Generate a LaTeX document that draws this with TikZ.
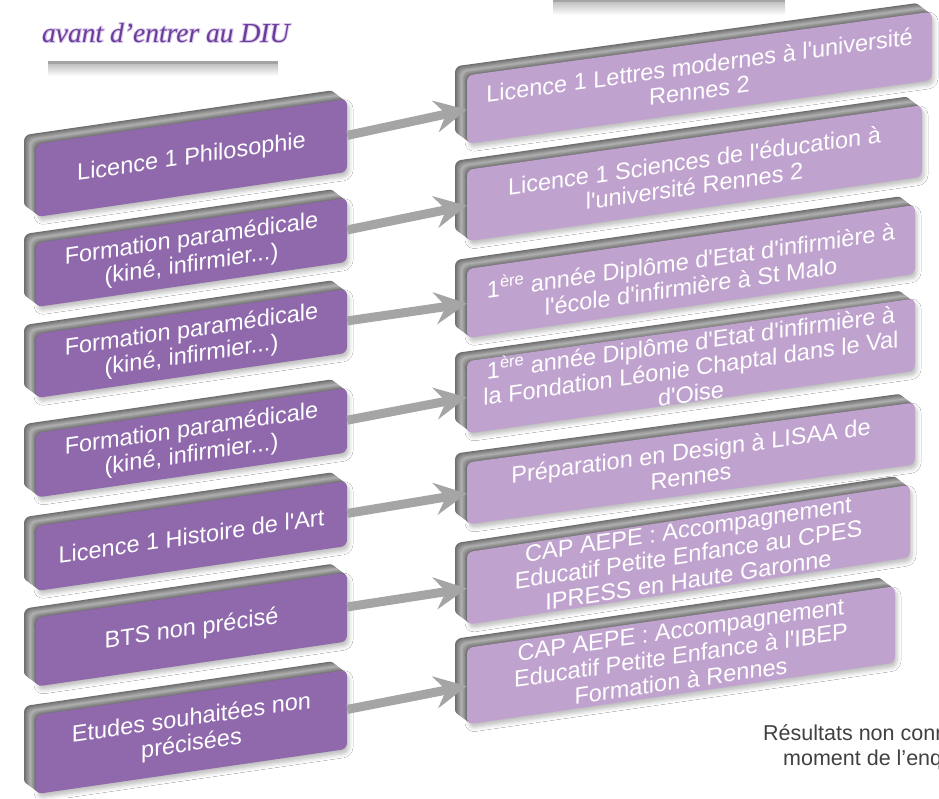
\documentclass[tikz,border=0pt]{standalone}
\usepackage{fontspec}
\setmainfont{Liberation Sans}[Ligatures=TeXOff]
\newfontfamily\titlefont{Liberation Serif}
\newfontfamily\titleglowfont{Liberation Serif Italic}[FakeBold=7]
\usetikzlibrary{arrows.meta,shadows.blur}
\definecolor{facedark}{HTML}{8F69AB}
\definecolor{facelight}{HTML}{C0A2CE}
\definecolor{arrowgray}{HTML}{A5A5A5}
\definecolor{titlepurple}{HTML}{6A3D9A}
\definecolor{titleglow}{HTML}{DCC9EC}
\definecolor{notegray}{HTML}{404040}
\tikzset{
  slabshape/.style={rectangle, rounded corners=6pt, inner sep=0pt, draw=none, transform shape},
  slabtext/.style={text=white, align=center, font=\fontsize{23.5}{25.5}\selectfont},
  conn/.style={line width=9pt, draw=arrowgray, -{Stealth[length=32pt,width=32pt,inset=11pt,fill=arrowgray]}},
  titlestyle/.style={anchor=base west, inner sep=0pt},
  notestyle/.style={anchor=base west, inner sep=0pt, text=notegray, font=\fontsize{21.5}{24}\selectfont},
}
\newcommand{\slab}[8]{%
  \foreach \k in {12,11,...,1}{%
    \pgfmathsetmacro{\c}{31+4.3*abs(\k-6)}%
    \begin{scope}[shift={(#2-\k,#3-0.75*\k)}, yslant=#6]
      \node[slabshape, minimum width=#4pt, minimum height=#5pt, fill=black!\c] (#1b\k) {};
    \end{scope}
  }%
  \begin{scope}[shift={(#2,#3)}, yslant=#6]
    \node[slabshape, slabtext, minimum width=#4pt, minimum height=#5pt, fill=#7,
      blur shadow={shadow xshift=2pt, shadow yshift=-4pt, shadow blur radius=4pt, shadow opacity=25}] (#1) {#8};
  \end{scope}
}
\begin{document}
\begin{tikzpicture}[x=1pt,y=-1pt]
\useasboundingbox (0,0) rectangle (939,798);
\fill[white] (0,0) rectangle (939,798);
\clip (0,0) rectangle (939,798);

% title and bars
\node[titlestyle, text=titleglow, font=\titleglowfont\fontsize{27.5}{30}\selectfont] (glow) at (42,42) {avant d’entrer au DIU};
\node[titlestyle, text=titlepurple, font=\titlefont\itshape\fontsize{27.5}{30}\selectfont] (title) at (42,42) {avant d’entrer au DIU};
\fill[black!36] (48,61) rectangle (278,64);
\shade[top color=black!24, bottom color=white] (48,64) rectangle (278,76);
\fill[black!36] (553,-1) rectangle (785,2);
\shade[top color=black!24, bottom color=white] (553,2) rectangle (785,15);

% left column
\slab{L1}{191.5}{158}{311}{73}{0.145}{facedark}{Licence 1 Philosophie}
\slab{L2}{191.5}{252.5}{311}{64}{0.145}{facedark}{Formation paramédicale\\(kiné, infirmier...)}
\slab{L3}{191.5}{343.5}{311}{64}{0.145}{facedark}{Formation paramédicale\\(kiné, infirmier...)}
\slab{L4}{191.5}{442.75}{311}{64.5}{0.145}{facedark}{Formation paramédicale\\(kiné, infirmier...)}
\slab{L5}{191.5}{536}{311}{65}{0.145}{facedark}{Licence 1 Histoire de l'Art}
\slab{L6}{191.5}{629.5}{311}{69}{0.145}{facedark}{BTS non précisé}
\slab{L7}{191.5}{732}{311}{79}{0.145}{facedark}{Etudes souhaitées non\\précisées}

% right column
\slab{R1}{699.5}{77.75}{465}{68.5}{0.137}{facelight}{Licence 1 Lettres modernes à l'université\\Rennes 2}
\slab{R2}{694.5}{173.25}{455}{71.5}{0.142}{facelight}{Licence 1 Sciences de l'éducation à\\l'université Rennes 2}
\slab{R3}{691}{271.5}{448}{69}{0.143}{facelight}{1\textsuperscript{ère} année Diplôme d'Etat d'infirmière à\\l'école d'infirmière à St Malo}
\slab{R4}{691}{366}{448}{70.5}{0.14}{facelight}{1\textsuperscript{ère} année Diplôme d'Etat d'infirmière à\\la Fondation Léonie Chaptal dans le Val\\d'Oise}
\slab{R5}{691}{463.5}{448}{62}{0.134}{facelight}{Préparation en Design à LISAA de\\Rennes}
\slab{R6}{688.5}{554.75}{443}{72.5}{0.152}{facelight}{CAP AEPE : Accompagnement\\Educatif Petite Enfance au CPES\\IPRESS en Haute Garonne}
\slab{R7}{681}{655.25}{428}{76.5}{0.144}{facelight}{CAP AEPE : Accompagnement\\Educatif Petite Enfance à l'IBEP\\Formation à Rennes}

% connectors
\foreach \i in {1,...,7}
  \draw[conn] (L\i.east) -- (R\i.west);

% note
\node[notestyle] (note1) at (763,740) {Résultats non conn};
\node[notestyle] (note2) at (783,765) {moment de l’enq};
\end{tikzpicture}
\end{document}
